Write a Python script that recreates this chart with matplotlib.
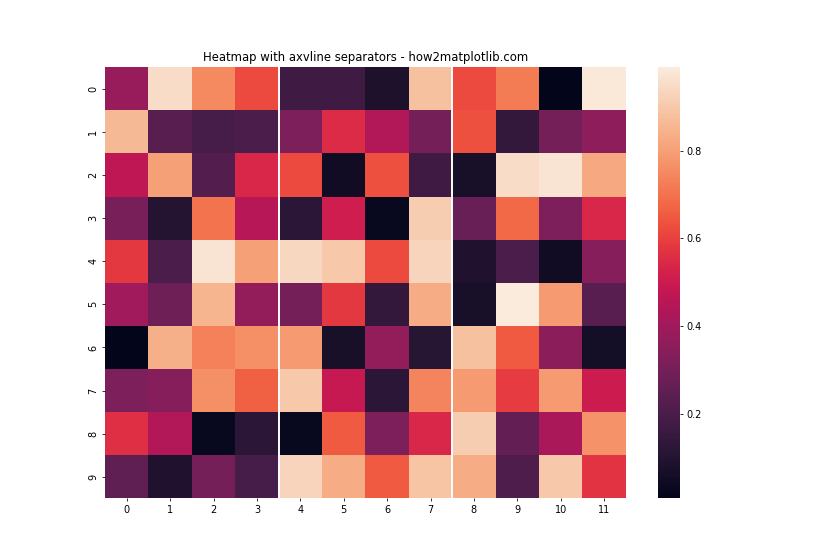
import numpy as np
import matplotlib
matplotlib.use('Agg')
import matplotlib.pyplot as plt
import seaborn as sns

# cell values (10 rows x 12 columns)
row0 = [0.38, 0.95, 0.75, 0.62, 0.17, 0.17, 0.08, 0.88, 0.62, 0.72, 0.01, 0.98]
row1 = [0.86, 0.23, 0.19, 0.20, 0.32, 0.55, 0.44, 0.30, 0.63, 0.14, 0.30, 0.36]
row2 = [0.47, 0.80, 0.22, 0.54, 0.62, 0.05, 0.63, 0.17, 0.07, 0.95, 0.97, 0.82]
row3 = [0.31, 0.10, 0.70, 0.45, 0.12, 0.51, 0.03, 0.91, 0.27, 0.68, 0.32, 0.54]
row4 = [0.58, 0.20, 0.97, 0.80, 0.94, 0.90, 0.62, 0.93, 0.09, 0.20, 0.05, 0.34]
row5 = [0.40, 0.28, 0.85, 0.37, 0.30, 0.58, 0.14, 0.83, 0.07, 0.99, 0.79, 0.23]
row6 = [0.007, 0.84, 0.73, 0.76, 0.79, 0.07, 0.37, 0.11, 0.88, 0.65, 0.35, 0.06]
row7 = [0.32, 0.34, 0.76, 0.66, 0.90, 0.49, 0.12, 0.74, 0.79, 0.59, 0.79, 0.50]
row8 = [0.56, 0.44, 0.03, 0.12, 0.03, 0.65, 0.32, 0.54, 0.91, 0.26, 0.42, 0.77]
row9 = [0.25, 0.09, 0.30, 0.19, 0.93, 0.83, 0.65, 0.89, 0.83, 0.21, 0.90, 0.57]

separators = [4, 8]

data = np.array([row0, row1, row2, row3, row4, row5, row6, row7, row8, row9])

plt.figure(figsize=(12, 8), dpi=70)
sns.heatmap(data)
for x in separators:
    plt.axvline(x=x, color='white', linewidth=2)
plt.title('Heatmap with axvline separators - how2matplotlib.com')
plt.savefig('out.png')
